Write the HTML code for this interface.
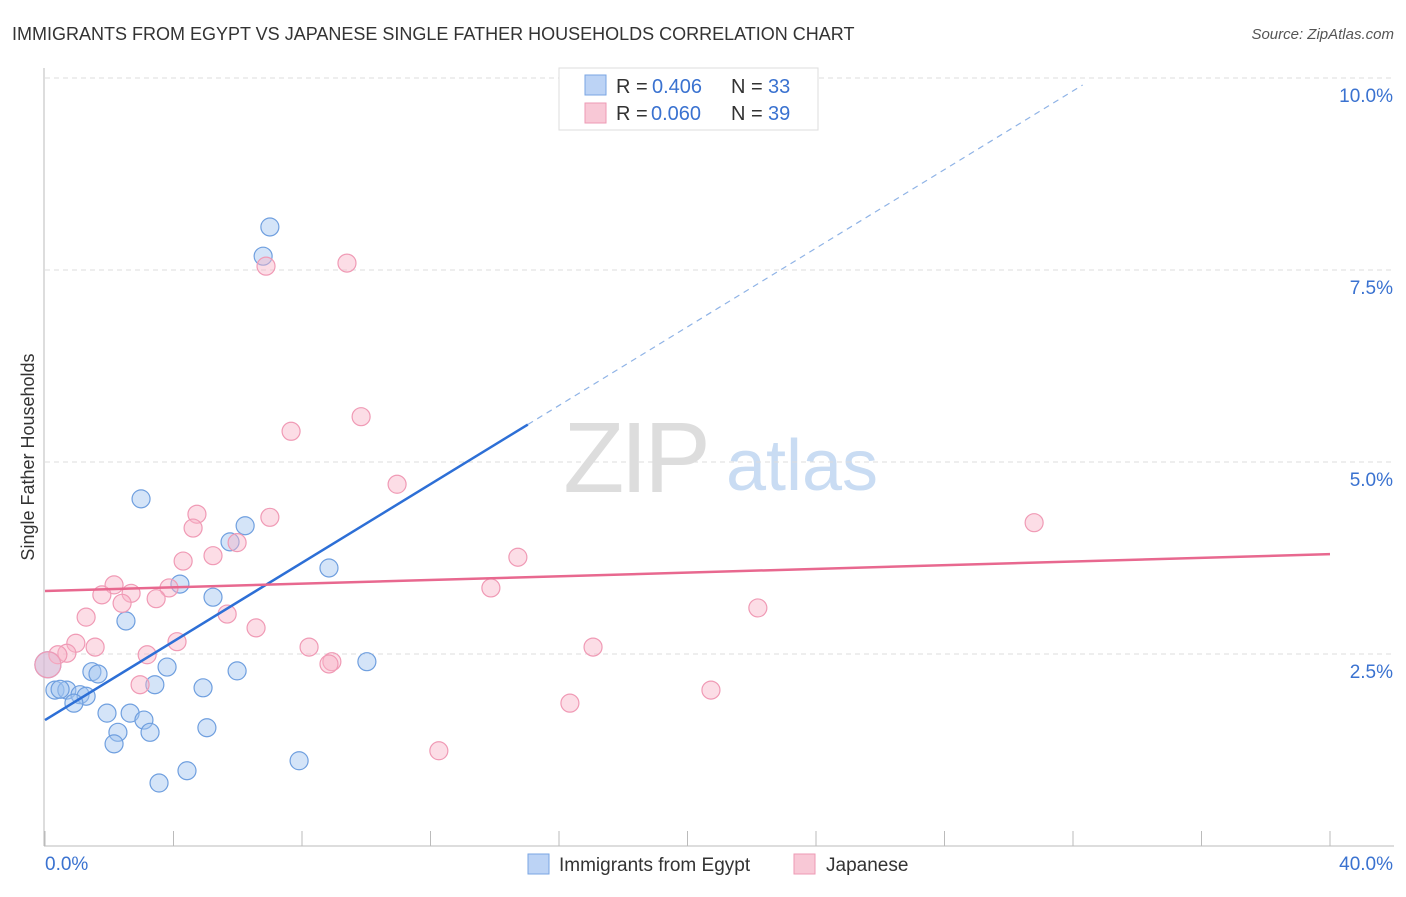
<!DOCTYPE html>
<html><head><meta charset="utf-8"><style>
body{margin:0;background:#fff;font-family:"Liberation Sans",sans-serif;}
svg text{font-family:"Liberation Sans",sans-serif;}
</style></head><body>
<svg id="chart" width="1406" height="892" xmlns="http://www.w3.org/2000/svg">
<text x="12" y="40" font-size="18" fill="#333">IMMIGRANTS FROM EGYPT VS JAPANESE SINGLE FATHER HOUSEHOLDS CORRELATION CHART</text>
<text x="1394" y="39" font-size="15" fill="#555" text-anchor="end" font-style="italic">Source: ZipAtlas.com</text>
<text transform="translate(34,457) rotate(-90)" font-size="18" fill="#333" text-anchor="middle">Single Father Households</text>
<g>
<text x="635" y="492" font-size="100" fill="#ddd" font-family="Liberation Serif" text-anchor="middle" letter-spacing="-4">ZIP</text>
<text x="802" y="490" font-size="72" fill="#c9dcf3" text-anchor="middle">atlas</text>
</g>
<g id="grid"></g><g id="axes"></g><g id="marks"></g>
<g>
<rect x="559" y="68" width="259" height="62" fill="#fff" stroke="#ddd"/>
<rect x="585" y="75" width="21" height="20" fill="#bcd3f5" stroke="#7aa6e3"/>
<text x="616" y="93" font-size="20" fill="#333">R =</text>
<text x="652" y="93" font-size="20" fill="#3a72d0">0.406</text>
<text x="731" y="93" font-size="20" fill="#333">N =</text>
<text x="768" y="93" font-size="20" fill="#3a72d0">33</text>
<rect x="585" y="103" width="21" height="20" fill="#f8c8d6" stroke="#ee9ab4"/>
<text x="616" y="120" font-size="20" fill="#333">R =</text>
<text x="651" y="120" font-size="20" fill="#3a72d0">0.060</text>
<text x="731" y="120" font-size="20" fill="#333">N =</text>
<text x="768" y="120" font-size="20" fill="#3a72d0">39</text>
</g>
<g>
<rect x="528" y="854" width="21" height="20" fill="#bcd3f5" stroke="#7aa6e3"/>
<text x="559" y="871" font-size="19" fill="#333">Immigrants from Egypt</text>
<rect x="794" y="854" width="21" height="20" fill="#f8c8d6" stroke="#ee9ab4"/>
<text x="826" y="871" font-size="19" fill="#333">Japanese</text>
</g>
</svg>
<script>
const yTicks=[2.5,5.0,7.5,10.0];
const yTickLabels=["2.5%","5.0%","7.5%","10.0%"];
const xTicks=[0,4,8,12,16,20,24,28,32,36,40];
const egyptX=[7.00,6.79,2.99,6.23,5.76,8.84,4.20,5.23,2.52,10.02,5.98,3.80,1.46,1.65,3.42,4.92,0.31,0.68,1.09,1.28,0.90,1.93,2.65,3.08,2.27,3.27,5.04,2.15,7.91,4.42,3.55,0.09,0.47];
const egyptY=[8.06,7.68,4.52,4.17,3.96,3.62,3.41,3.24,2.93,2.40,2.28,2.33,2.27,2.24,2.10,2.06,2.03,2.03,1.97,1.95,1.86,1.73,1.73,1.64,1.48,1.48,1.54,1.33,1.11,0.98,0.82,2.36,2.04];
const egyptR=[9,9,9,9,9,9,9,9,9,9,9,9,9,9,9,9,9,9,9,9,9,9,9,9,9,9,9,9,9,9,9,13,9];
const japX=[6.88,9.40,9.84,7.66,10.96,30.79,4.73,7.00,4.61,5.98,5.23,4.30,14.72,2.15,3.86,2.68,1.77,3.46,2.40,13.88,22.19,5.67,1.28,6.57,0.96,4.11,1.56,8.22,17.06,0.68,0.40,3.18,8.93,8.84,2.96,20.73,16.34,12.26,0.09];
const japY=[7.55,7.59,5.59,5.40,4.71,4.21,4.32,4.28,4.14,3.95,3.78,3.71,3.76,3.40,3.36,3.29,3.27,3.22,3.16,3.36,3.10,3.02,2.98,2.84,2.64,2.66,2.59,2.59,2.59,2.51,2.49,2.49,2.40,2.37,2.10,2.03,1.86,1.24,2.36];
const japR=[9,9,9,9,9,9,9,9,9,9,9,9,9,9,9,9,9,9,9,9,9,9,9,9,9,9,9,9,9,9,9,9,9,9,9,9,9,9,13];
const egyptLine=[1.64,0.256];
const egyptSolidEnd=15.03, egyptDashEnd=32.3;
const japLine=[3.32,0.012];
const X=v=>45+v*32.125, Y=v=>846-v*76.8;
const NS="http://www.w3.org/2000/svg";
function mk(tag,attrs,parent){const e=document.createElementNS(NS,tag);for(const k in attrs)e.setAttribute(k,attrs[k]);document.getElementById(parent).appendChild(e);return e;}
yTicks.forEach((t,i)=>{
 const g=mk('line',{x1:45,x2:1394,y1:Y(t),y2:Y(t),stroke:'#ddd','stroke-dasharray':'5,4'},'grid');
 
 
 const tx=mk('text',{x:1393,y:Y(t)+24,'font-size':19,fill:'#3a72d0','text-anchor':'end'},'grid');
 tx.textContent=yTickLabels[i];
 
 
});
let a=mk('line',{x1:44,x2:44,y1:68,y2:846,stroke:'#bbb'},'axes');


a=mk('line',{x1:44,x2:1394,y1:846,y2:846,stroke:'#bbb'},'axes');


xTicks.forEach(t=>{const l=mk('line',{x1:X(t),x2:X(t),y1:831,y2:846,stroke:'#bbb'},'axes');
 
 });
let t0=mk('text',{x:45,y:870,'font-size':19,fill:'#3a72d0'},'axes');t0.textContent='0.0%';


let t1=mk('text',{x:1393,y:870,'font-size':19,fill:'#3a72d0','text-anchor':'end'},'axes');t1.textContent='40.0%';


egyptX.forEach((x,i)=>{const c=mk('circle',{cx:X(x),cy:Y(egyptY[i]),r:egyptR[i],fill:'rgba(160,196,240,0.45)',stroke:'#6f9fdf','stroke-width':1.2},'marks');
 
 });
japX.forEach((x,i)=>{const c=mk('circle',{cx:X(x),cy:Y(japY[i]),r:japR[i],fill:'rgba(248,180,200,0.45)',stroke:'#f09ab5','stroke-width':1.2},'marks');
 
 });
let l=mk('line',{x1:X(0),y1:Y(egyptLine[0]),x2:X(egyptSolidEnd),y2:Y(egyptLine[0]+egyptLine[1]*egyptSolidEnd),stroke:'#2d6fd6','stroke-width':2.5},'marks');


l=mk('line',{x1:X(egyptSolidEnd),y1:Y(egyptLine[0]+egyptLine[1]*egyptSolidEnd),x2:X(egyptDashEnd),y2:Y(egyptLine[0]+egyptLine[1]*egyptDashEnd),stroke:'#8fb3e6','stroke-width':1.2,'stroke-dasharray':'6,5'},'marks');


l=mk('line',{x1:X(0),y1:Y(japLine[0]),x2:X(40),y2:Y(japLine[0]+japLine[1]*40),stroke:'#e8688f','stroke-width':2.5},'marks');


</script>
</body></html>
